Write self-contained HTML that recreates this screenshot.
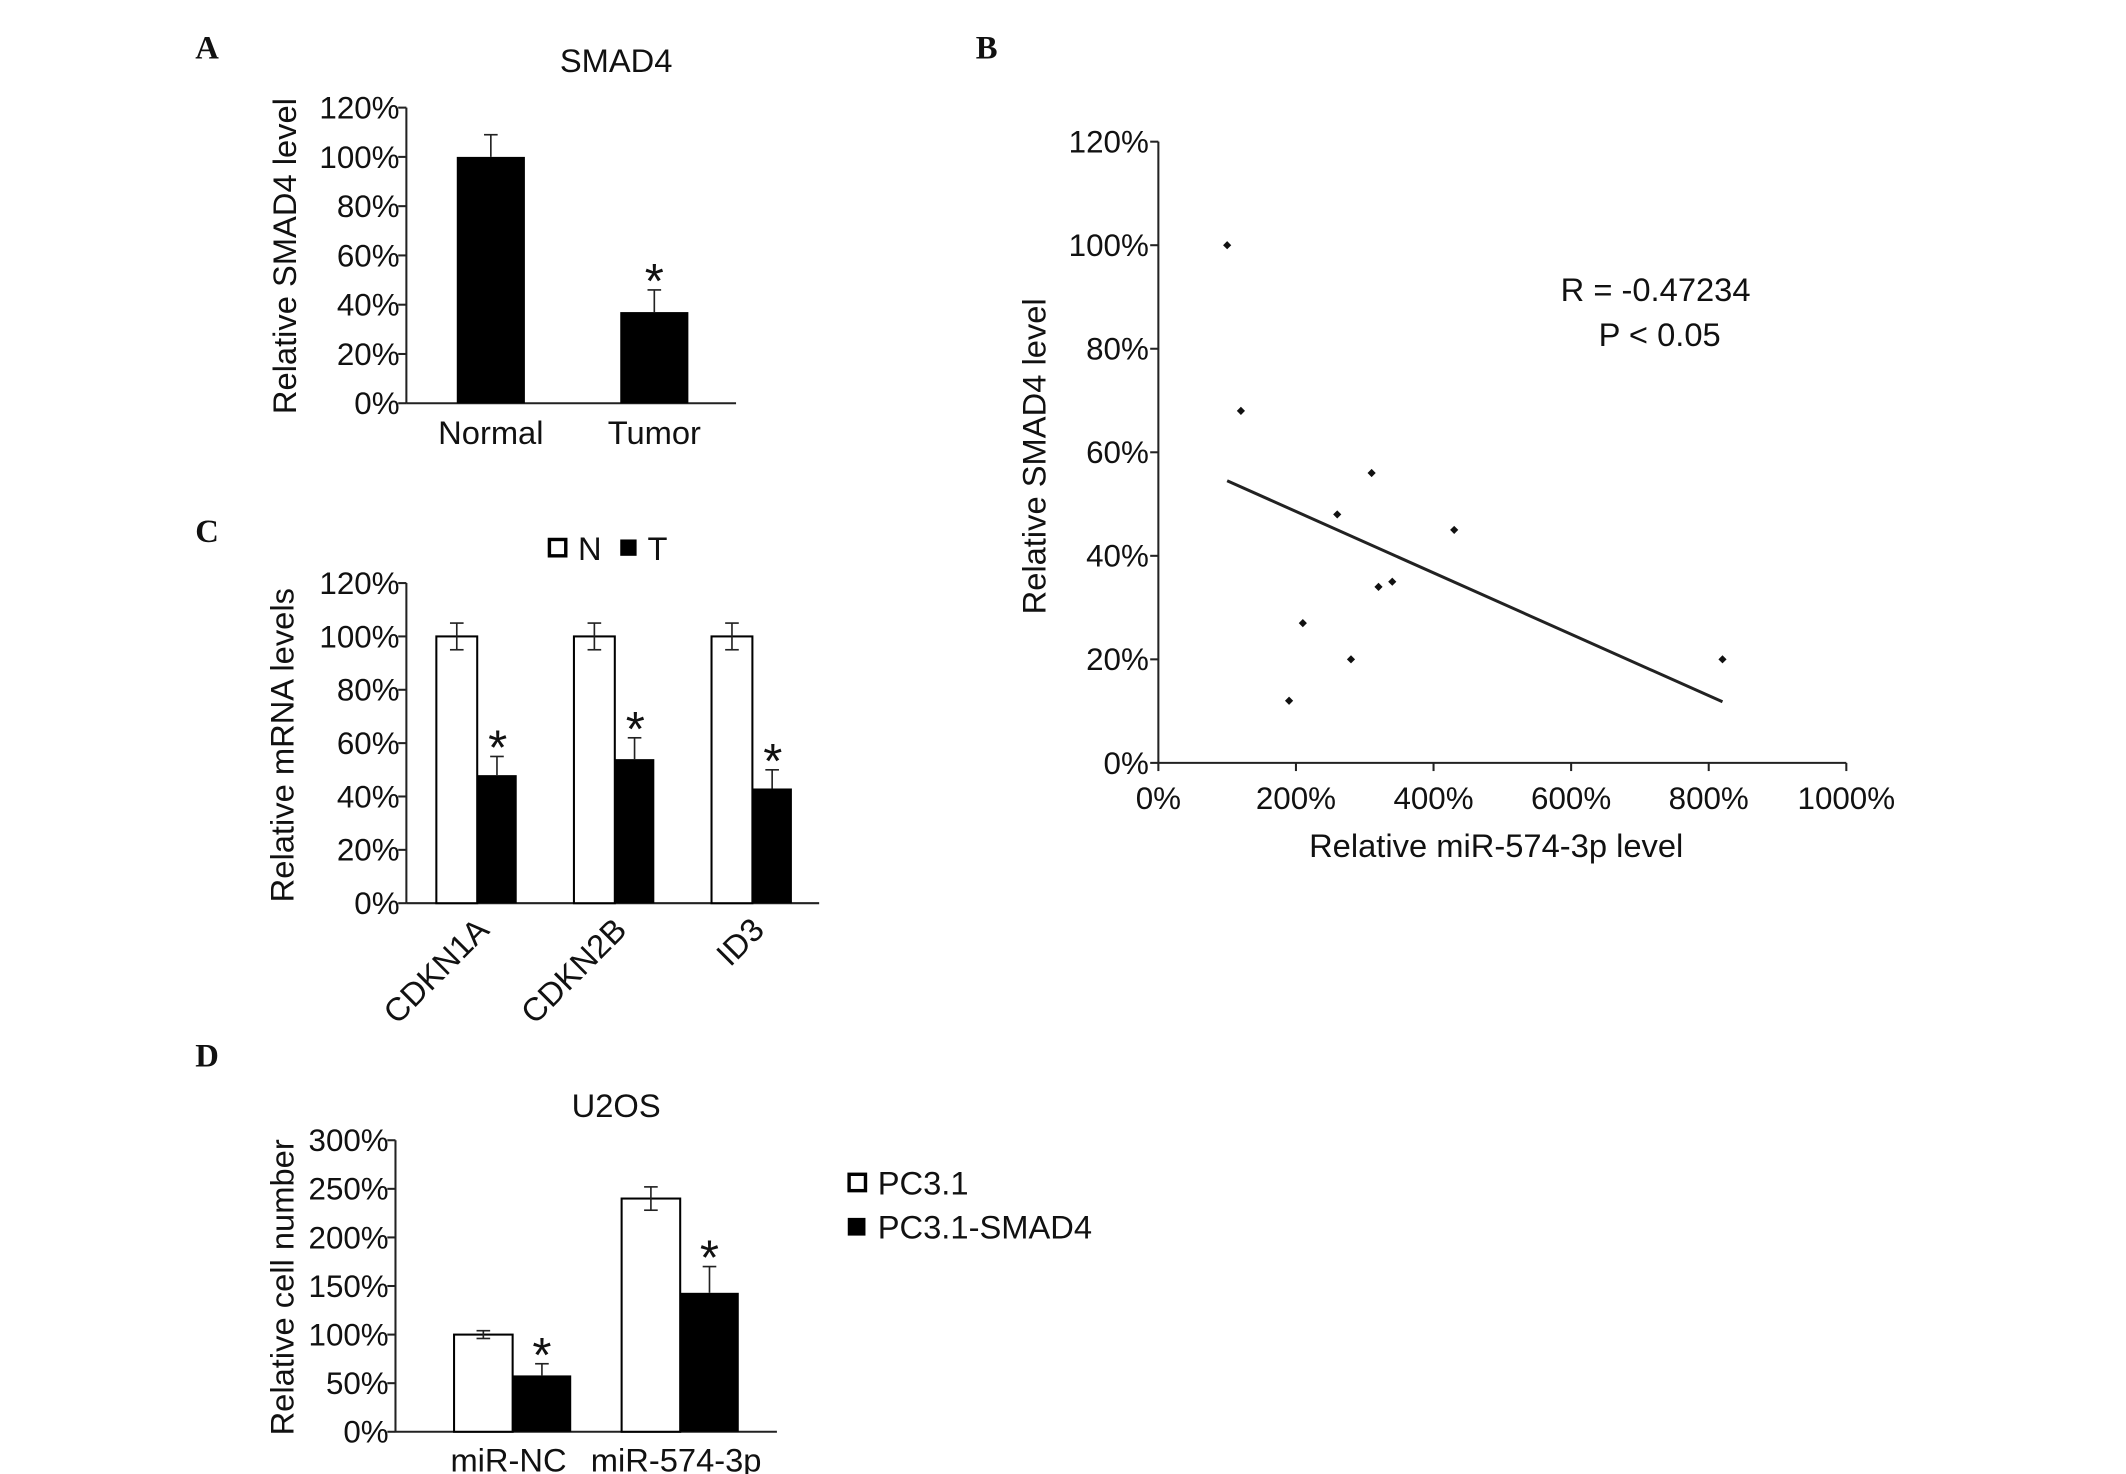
<!DOCTYPE html>
<html><head><meta charset="utf-8"><style>
html,body{margin:0;padding:0;background:#fff}
svg{display:block}
text{font-family:"Liberation Sans",Arial,sans-serif;fill:#111}
.lt{font-family:"Liberation Serif",serif;font-weight:bold;font-size:24px}
</style></head><body>
<svg id="fig" width="2126" height="1474" viewBox="0 0 1560 1082" xmlns="http://www.w3.org/2000/svg">
<text class="lt" x="143" y="43">A</text>
<text class="lt" x="716" y="43">B</text>
<text class="lt" x="143" y="398">C</text>
<text class="lt" x="143" y="783">D</text>
<g id="A"></g><g id="B"></g><g id="C"></g><g id="D"></g>
</svg>
<script>
// Panel A data
const aCats=["Normal","Tumor"];
const aVals=[100,37];
const aErr=[9,9];
const aSig=[false,true];
const aTicks=[0,20,40,60,80,100,120];
// Panel B data
const bX=[100,120,310,260,430,340,320,210,280,190,820];
const bY=[100,68,56,48,45,35,34,27,20,12,20];
const bTrendX=[100,820];
const bTrendY=[54.5,11.8];
const bXTicks=[0,200,400,600,800,1000];
const bYTicks=[0,20,40,60,80,100,120];
// Panel C data
const cCats=["CDKN1A","CDKN2B","ID3"];
const cN=[100,100,100];
const cNErr=[5,5,5];
const cT=[48,54,43];
const cTErr=[7,8,7];
const cTicks=[0,20,40,60,80,100,120];
// Panel D data
const dCats=["miR-NC","miR-574-3p"];
const dA=[100,240];
const dAErr=[4,12];
const dB=[58,143];
const dBErr=[12,27];
const dTicks=[0,50,100,150,200,250,300];

const FS=23, TS=24;
const NS="http://www.w3.org/2000/svg";
function mk(p,t,a,txt){const e=document.createElementNS(NS,t);for(const k in a)e.setAttribute(k,a[k]);if(txt!==undefined)e.textContent=txt;p.appendChild(e);return e;}
function line(p,x1,y1,x2,y2,w){return mk(p,'line',{x1,y1,x2,y2,stroke:'#222','stroke-width':w||1.5});}
function yAxis(g,x,y0,y1,ticks,max,fmt,x2){
  const sc=v=>y0-(v/max)*(y0-y1);
  line(g,x,y0,x,y1);
  ticks.forEach(t=>{const y=sc(t);line(g,x-6,y,x,y);
    const tx=mk(g,'text',{x:x-5,y:y+8,'text-anchor':'end','font-size':FS},t+'%');
    
    });
  line(g,x,y0,x2,y0);
  return sc;
}
function errBar(g,cx,yTop,yErr){line(g,cx,yTop,cx,yErr,1.2);line(g,cx-5,yErr,cx+5,yErr,1.2);}
function star(g,cx,y){const s=mk(g,'text',{x:cx,y:y+6,'text-anchor':'middle','font-size':36},'*');
  
  }

// A
(function(){const g=document.getElementById('A');
 mk(g,'text',{x:452,y:53,'text-anchor':'middle','font-size':TS},'SMAD4');
 const t=mk(g,'text',{x:0,y:0,'text-anchor':'middle','font-size':TS,transform:'translate(217,188) rotate(-90)'},'Relative SMAD4 level');
 
 const sc=yAxis(g,298,296,79,aTicks,120,null,540);
 const cx=[360,480];
 aCats.forEach((c,i)=>{const y=sc(aVals[i]);
  const r=mk(g,'rect',{x:cx[i]-25,y:y,width:50,height:296-y,fill:'#000'});
  
  
  errBar(g,cx[i],y,sc(aVals[i]+aErr[i]));
  if(aSig[i])star(g,cx[i],sc(aVals[i]+aErr[i]));
  const l=mk(g,'text',{x:cx[i],y:326,'text-anchor':'middle','font-size':TS},c);
  
 });
})();

// B
(function(){const g=document.getElementById('B');
 const x0=850,x1=1355,y0=560,y1=104;
 const sx=v=>x0+v/1000*(x1-x0), sy=v=>y0-v/120*(y0-y1);
 line(g,x0,y0,x0,y1);line(g,x0,y0,x1,y0);
 bYTicks.forEach(t=>{line(g,x0-6,sy(t),x0,sy(t));
  const tx=mk(g,'text',{x:x0-7,y:sy(t)+8,'text-anchor':'end','font-size':FS},t+'%');
  });
 bXTicks.forEach(t=>{line(g,sx(t),y0,sx(t),y0+6);
  const tx=mk(g,'text',{x:sx(t),y:y0+34,'text-anchor':'middle','font-size':FS},t+'%');
  });
 const xt=mk(g,'text',{x:1098,y:629,'text-anchor':'middle','font-size':TS},'Relative miR-574-3p level');
 
 const yt=mk(g,'text',{x:0,y:0,'text-anchor':'middle','font-size':TS,transform:'translate(767,335) rotate(-90)'},'Relative SMAD4 level');
 
 bX.forEach((v,i)=>{const p=mk(g,'path',{d:`M${sx(v)} ${sy(bY[i])-3}l3 3l-3 3l-3 -3z`,fill:'#111'});
  });
 const tl=line(g,sx(bTrendX[0]),sy(bTrendY[0]),sx(bTrendX[1]),sy(bTrendY[1]),2.2);
 
 const r=mk(g,'text',{x:1215,y:221,'text-anchor':'middle','font-size':TS},'R = -0.47234');
 
 const pv=mk(g,'text',{x:1218,y:254,'text-anchor':'middle','font-size':TS},'P < 0.05');
 
})();

// C
(function(){const g=document.getElementById('C');
 const sc=yAxis(g,298,663,428,cTicks,120,null,601);
 const yt=mk(g,'text',{x:0,y:0,'text-anchor':'middle','font-size':TS,transform:'translate(215,547) rotate(-90)'},'Relative mRNA levels');
 
 const ln=mk(g,'rect',{x:403,y:396,width:12,height:12,fill:'#fff',stroke:'#000','stroke-width':2.5});
 
 mk(g,'text',{x:424,y:411,'font-size':TS},'N');
 const lt=mk(g,'rect',{x:455,y:396,width:12,height:12,fill:'#000'});
 
 mk(g,'text',{x:475,y:411,'font-size':TS},'T');
 const gx=[350,451,552];
 cCats.forEach((c,i)=>{
  let y=sc(cN[i]);
  const a=mk(g,'rect',{x:gx[i]-30,y:y,width:30,height:663-y,fill:'#fff',stroke:'#000','stroke-width':1.5});
  
  errBar(g,gx[i]-15,y,sc(cN[i]+cNErr[i]));
  line(g,gx[i]-15,y,gx[i]-15,sc(cN[i]-cNErr[i]),1.2);line(g,gx[i]-20,sc(cN[i]-cNErr[i]),gx[i]-10,sc(cN[i]-cNErr[i]),1.2);
  y=sc(cT[i]);
  const b=mk(g,'rect',{x:gx[i],y:y,width:29,height:663-y,fill:'#000'});
  
  errBar(g,gx[i]+14.5,y,sc(cT[i]+cTErr[i]));
  star(g,gx[i]+15,sc(cT[i]+cTErr[i]));
  const l=mk(g,'text',{x:0,y:0,'text-anchor':'end','font-size':TS,transform:`translate(${gx[i]+10},684) rotate(-45)`},c);
  
 });
})();

// D
(function(){const g=document.getElementById('D');
 mk(g,'text',{x:452,y:820,'text-anchor':'middle','font-size':TS},'U2OS');
 const sc=yAxis(g,290,1051,837,dTicks,300,null,570);
 const yt=mk(g,'text',{x:0,y:0,'text-anchor':'middle','font-size':TS,transform:'translate(215,945) rotate(-90)'},'Relative cell number');
 
 const gx=[376,499];
 dCats.forEach((c,i)=>{
  let y=sc(dA[i]);
  const a=mk(g,'rect',{x:gx[i]-43,y:y,width:43,height:1051-y,fill:'#fff',stroke:'#000','stroke-width':1.5});
  
  errBar(g,gx[i]-21.5,y,sc(dA[i]+dAErr[i]));
  line(g,gx[i]-21.5,y,gx[i]-21.5,sc(dA[i]-dAErr[i]),1.2);line(g,gx[i]-26.5,sc(dA[i]-dAErr[i]),gx[i]-16.5,sc(dA[i]-dAErr[i]),1.2);
  y=sc(dB[i]);
  const b=mk(g,'rect',{x:gx[i],y:y,width:43,height:1051-y,fill:'#000'});
  
  errBar(g,gx[i]+21.5,y,sc(dB[i]+dBErr[i]));
  star(g,gx[i]+21.5,sc(dB[i]+dBErr[i]));
  const l=mk(g,'text',{x:gx[i]-3,y:1080,'text-anchor':'middle','font-size':TS},c);
  
 });
 const s1=mk(g,'rect',{x:623,y:862,width:12,height:12,fill:'#fff',stroke:'#000','stroke-width':2.5});
 
 mk(g,'text',{x:644,y:877,'font-size':TS},'PC3.1');
 const s2=mk(g,'rect',{x:622,y:894,width:13,height:13,fill:'#000'});
 
 mk(g,'text',{x:644,y:909,'font-size':TS},'PC3.1-SMAD4');
})();
</script>
</body></html>
